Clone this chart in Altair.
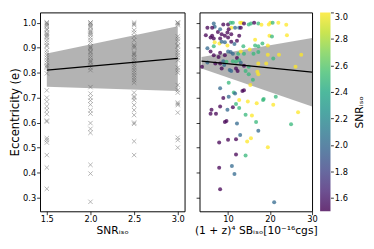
import altair as alt
import pandas as pd

FONT = "DejaVu Sans"

# ---------------- tick values ----------------
snr_ticks = [1.5, 2.0, 2.5, 3.0]
ecc_ticks = [0.3, 0.4, 0.5, 0.6, 0.7, 0.8, 0.9, 1.0]
sb_ticks = [10, 20, 30]
cbar_ticks = [1.6, 1.8, 2.0, 2.2, 2.4, 2.6, 2.8, 3.0]

# ---------------- left panel: eccentricity per SNR level ----------------
ecc_snr15 = [1.0, 1.0, 0.995, 0.99, 0.985, 0.975, 0.97, 0.96, 0.955, 0.95, 0.945, 0.94,
             0.93, 0.92, 0.91, 0.905, 0.89, 0.88, 0.87, 0.86, 0.85, 0.84, 0.83, 0.825,
             0.82, 0.797, 0.729, 0.70, 0.684, 0.665, 0.65, 0.634, 0.608, 0.604, 0.538,
             0.53, 0.52, 0.47, 0.42, 0.335]
ecc_snr20 = [1.0, 1.0, 0.995, 0.99, 0.985, 0.98, 0.97, 0.965, 0.96, 0.955, 0.95, 0.94,
             0.93, 0.92, 0.905, 0.9, 0.895, 0.885, 0.88, 0.87, 0.86, 0.85, 0.845, 0.84,
             0.83, 0.82, 0.81, 0.742, 0.716, 0.70, 0.688, 0.672, 0.649, 0.636, 0.598,
             0.575, 0.559, 0.431, 0.396, 0.283]
ecc_snr25 = [1.0, 0.995, 0.99, 0.97, 0.96, 0.945, 0.93, 0.91, 0.905, 0.9, 0.88, 0.875,
             0.87, 0.86, 0.85, 0.84, 0.83, 0.82, 0.81, 0.80, 0.79, 0.78, 0.77, 0.76,
             0.72, 0.705, 0.70, 0.69, 0.67, 0.65, 0.63, 0.60, 0.595, 0.525, 0.47]
ecc_snr30 = [1.0, 1.0, 0.995, 0.99, 0.945, 0.935, 0.925, 0.91, 0.905, 0.89, 0.88, 0.87,
             0.86, 0.85, 0.82, 0.81, 0.80, 0.75, 0.73, 0.72, 0.68, 0.675, 0.67, 0.64,
             0.54, 0.53, 0.50]

# left fit line and confidence band (at SNR 1.5 and 3.0)
fit_snr = [1.5, 3.0]
fit_left = [0.810, 0.857]
band_lo_left = [0.743, 0.726]
band_hi_left = [0.877, 0.986]

# ---------------- right panel: surface brightness scatter ----------------
sb_right = [6.59, 6.82, 5.08, 6.21, 8.86, 10.0, 10.61, 11.14, 12.88, 13.26, 13.79, 14.92,
            15.45, 16.21, 17.20, 17.95, 19.70, 20.08, 20.61, 21.97, 23.86, 10.76, 11.67,
            12.65, 13.03, 4.70, 5.83, 6.21, 6.59, 7.58, 8.11, 8.48, 9.24, 9.85, 10.15,
            10.76, 12.65, 10.0, 19.85, 20.45, 24.02, 8.11, 6.82, 7.95, 8.48, 9.85, 10.76,
            11.52, 12.12, 13.64, 16.44, 16.44, 17.20, 18.18, 19.47, 5.08, 6.59, 9.24,
            5.83, 8.11, 10.0, 10.61, 11.14, 12.42, 13.03, 13.79, 15.15, 16.06, 17.20,
            19.47, 22.12, 27.42, 7.73, 9.24, 12.12, 6.59, 3.79, 5.08, 6.97, 8.11, 8.86,
            9.62, 11.14, 11.89, 12.65, 13.03, 13.79, 14.92, 17.20, 19.09, 20.76, 26.06,
            10.38, 10.76, 11.89, 12.27, 14.17, 16.97, 8.48, 9.09, 14.92, 15.91, 17.20,
            10.15, 8.11, 11.36, 11.67, 13.41, 13.79, 15.30, 8.86, 10.15, 12.65, 18.48,
            21.36, 8.11, 9.85, 11.14, 11.89, 12.65, 14.70, 16.82, 18.33, 20.76, 6.06,
            5.83, 7.12, 26.67, 14.17, 15.68, 9.24, 9.62, 12.12, 16.67, 17.20, 25.0, 7.88,
            10.0, 11.89, 12.88, 14.55, 15.45, 19.47, 11.89, 14.17, 10.91, 7.88, 11.52,
            8.11, 20.98]
ecc_right = [0.997, 0.984, 0.980, 0.980, 0.993, 0.993, 1.0, 1.0, 1.0, 1.0, 0.997, 0.993,
             0.997, 1.0, 0.997, 0.992, 0.993, 1.0, 1.0, 1.0, 0.992, 0.980, 0.980, 0.980,
             0.980, 0.950, 0.941, 0.948, 0.937, 0.963, 0.974, 0.954, 0.948, 0.961, 0.974,
             0.954, 0.948, 0.941, 0.948, 0.945, 0.950, 0.937, 0.922, 0.917, 0.924, 0.909,
             0.924, 0.915, 0.928, 0.906, 0.932, 0.909, 0.906, 0.917, 0.909, 0.898, 0.906,
             0.922, 0.885, 0.880, 0.885, 0.883, 0.876, 0.876, 0.885, 0.876, 0.893, 0.876,
             0.883, 0.872, 0.872, 0.872, 0.863, 0.870, 0.859, 0.870, 0.824, 0.841, 0.837,
             0.837, 0.846, 0.844, 0.846, 0.844, 0.850, 0.840, 0.828, 0.824, 0.837, 0.837,
             0.857, 0.824, 0.811, 0.807, 0.817, 0.807, 0.807, 0.804, 0.817, 0.831, 0.794,
             0.772, 0.794, 0.759, 0.737, 0.720, 0.716, 0.726, 0.729, 0.750, 0.698, 0.703,
             0.690, 0.694, 0.703, 0.664, 0.651, 0.661, 0.674, 0.658, 0.684, 0.677, 0.690,
             0.671, 0.651, 0.635, 0.635, 0.641, 0.631, 0.628, 0.602, 0.606, 0.596, 0.602,
             0.567, 0.593, 0.520, 0.531, 0.533, 0.550, 0.524, 0.537, 0.501, 0.472, 0.468,
             0.426, 0.419, 0.394, 0.333, 0.281]
snr_right = [2.0, 2.0, 1.5, 1.5, 1.5, 1.5, 2.5, 2.5, 3.0, 3.0, 1.5, 2.5,
             2.5, 1.5, 2.5, 3.0, 3.0, 3.0, 2.5, 3.0, 3.0, 3.0, 2.0, 2.0,
             1.5, 1.5, 1.5, 1.5, 1.5, 1.5, 2.0, 1.5, 1.5, 1.5, 1.5,
             1.5, 1.5, 1.5, 3.0, 2.5, 3.0, 1.5, 3.0, 3.0, 2.0, 3.0,
             1.5, 2.0, 1.5, 2.5, 3.0, 2.5, 2.5, 2.5, 3.0, 2.0, 2.5,
             2.0, 1.5, 1.5, 2.0, 2.0, 2.0, 2.5, 3.0, 2.5, 3.0, 2.5,
             2.5, 3.0, 3.0, 3.0, 1.5, 1.5, 1.5, 1.5, 1.5, 2.0, 1.5,
             1.5, 2.0, 2.5, 2.5, 2.5, 2.5, 2.0, 1.5, 2.5, 3.0, 3.0,
             2.5, 3.0, 2.0, 2.0, 1.5, 1.5, 2.5, 3.0, 1.5, 2.0, 2.5,
             2.5, 3.0, 2.5, 2.0, 2.5, 2.0, 1.5, 1.5, 3.0, 1.5, 2.0,
             3.0, 2.5, 2.5, 1.5, 2.0, 1.5, 2.5, 2.5, 3.0, 3.0, 2.5,
             3.0, 1.5, 1.5, 1.5, 3.0, 2.5, 3.0, 1.5, 1.5, 2.0, 2.5,
             2.0, 2.5, 1.5, 1.5, 1.5, 2.0, 3.0, 3.0, 3.0, 1.5, 2.5,
             2.0, 1.5, 2.0, 1.5, 2.0]

fit_sb = [3.69, 30.0]
fit_right = [0.846, 0.802]
band_lo_right = [0.817, 0.664]
band_hi_right = [0.863, 0.939]

# colour bar range
cbar_range = [1.5, 3.0]
cbar_colors = ["#693476", "#6d5091", "#67699f", "#5d7fa4", "#5593a5", "#4da7a3",
               "#4eb99d", "#69cc8d", "#95da74", "#cae551", "#fdec51"]

# ---------------- tables ----------------
left_df = pd.DataFrame({
    "snr": [1.5] * len(ecc_snr15) + [2.0] * len(ecc_snr20)
           + [2.5] * len(ecc_snr25) + [3.0] * len(ecc_snr30),
    "ecc": ecc_snr15 + ecc_snr20 + ecc_snr25 + ecc_snr30,
})
left_fit_df = pd.DataFrame({"snr": fit_snr, "fit": fit_left,
                            "lo": band_lo_left, "hi": band_hi_left})
right_df = pd.DataFrame({"sb": sb_right, "ecc": ecc_right, "snr": snr_right})
right_fit_df = pd.DataFrame({"sb": fit_sb, "fit": fit_right,
                             "lo": band_lo_right, "hi": band_hi_right})
cbar_df = pd.DataFrame({"lo": [cbar_range[0]], "hi": [cbar_range[1]]})

H = 205
WL = 149
WR = 116

ydom = [0.245, 1.041]

# ---------------- left panel ----------------
xl_scale = alt.Scale(domain=[1.422, 3.078], nice=False, zero=False)
y_scale = alt.Scale(domain=ydom, nice=False, zero=False)
xl_axis = alt.Axis(values=snr_ticks, format=".1f", title="SNRᵢₛₒ")
yl_axis = alt.Axis(values=ecc_ticks, format=".1f", title="Eccentricity (e)",
                   titleFontSize=12, titlePadding=1, labelPadding=1)

band_l = alt.Chart(left_fit_df).mark_area(color="#808080", opacity=0.6).encode(
    x=alt.X("snr:Q", scale=xl_scale, axis=xl_axis),
    y=alt.Y("lo:Q", scale=y_scale, axis=yl_axis),
    y2="hi:Q",
)
pts_l = alt.Chart(left_df).mark_point(
    shape="M-1,-1L1,1M-1,1L1,-1", filled=False, color="#555555",
    opacity=0.55, strokeWidth=0.8, size=20,
).encode(
    x=alt.X("snr:Q", scale=xl_scale, axis=xl_axis),
    y=alt.Y("ecc:Q", scale=y_scale, axis=yl_axis),
)
line_l = alt.Chart(left_fit_df).mark_line(color="black", strokeWidth=1.2).encode(
    x=alt.X("snr:Q", scale=xl_scale, axis=xl_axis),
    y=alt.Y("fit:Q", scale=y_scale, axis=yl_axis),
)
left = alt.layer(band_l, pts_l, line_l).properties(width=WL, height=H)

# ---------------- right panel ----------------
xr_scale = alt.Scale(domain=[3.2, 30], nice=False, zero=False)
xr_axis = alt.Axis(values=sb_ticks, format="d", title="(1 + z)⁴ SBᵢₛₒ[10⁻¹⁶cgs]")
yr_axis = alt.Axis(values=ecc_ticks, labels=False, title=None)

band_r = alt.Chart(right_fit_df).mark_area(color="#808080", opacity=0.6).encode(
    x=alt.X("sb:Q", scale=xr_scale, axis=xr_axis),
    y=alt.Y("lo:Q", scale=y_scale, axis=yr_axis),
    y2="hi:Q",
)
pts_r = alt.Chart(right_df).mark_circle(size=17, opacity=0.75).encode(
    x=alt.X("sb:Q", scale=xr_scale, axis=xr_axis),
    y=alt.Y("ecc:Q", scale=y_scale, axis=yr_axis),
    color=alt.Color("snr:Q", scale=alt.Scale(domain=cbar_range, scheme="viridis"),
                    legend=None),
)
line_r = alt.Chart(right_fit_df).mark_line(color="black", strokeWidth=1.2).encode(
    x=alt.X("sb:Q", scale=xr_scale, axis=xr_axis),
    y=alt.Y("fit:Q", scale=y_scale, axis=yr_axis),
)
right_data = alt.layer(band_r, pts_r, line_r)

grad = alt.LinearGradient(
    gradient="linear",
    stops=[alt.GradientStop(color=c, offset=i / (len(cbar_colors) - 1))
           for i, c in enumerate(cbar_colors)],
    x1=0, x2=0, y1=1, y2=0,
)
cbar = alt.Chart(cbar_df).mark_rect(color=grad).encode(
    x=alt.value(WR + 8.3),
    x2=alt.value(WR + 19),
    y=alt.Y("lo:Q", scale=alt.Scale(domain=cbar_range, nice=False, zero=False),
            axis=alt.Axis(orient="right", offset=19, values=cbar_ticks, format=".1f",
                          title="SNRᵢₛₒ", titleAngle=270, titleBaseline="top",
                          titlePadding=7, labelPadding=1, tickSize=3,
                          labelFlush=True)),
    y2="hi:Q",
)
right = alt.layer(right_data, cbar).resolve_scale(y="independent").properties(
    width=WR, height=H)

chart = alt.hconcat(left, right, spacing=15.4, bounds="flush").properties(
    padding={"left": 0, "top": 0, "right": 0, "bottom": 0}
).configure(
    font=FONT
).configure_axis(
    labelFont=FONT, titleFont=FONT, labelFontSize=8.5, titleFontSize=11,
    titleFontWeight="normal", labelColor="black", titleColor="black",
    tickColor="black", tickSize=3.5, tickWidth=0.8, domain=False, grid=False,
    labelPadding=0.5, titlePadding=1, labelFlush=False,
).configure_view(stroke="black", strokeWidth=1)

chart.save("out.html", embed_options={"renderer": "svg", "actions": False})
